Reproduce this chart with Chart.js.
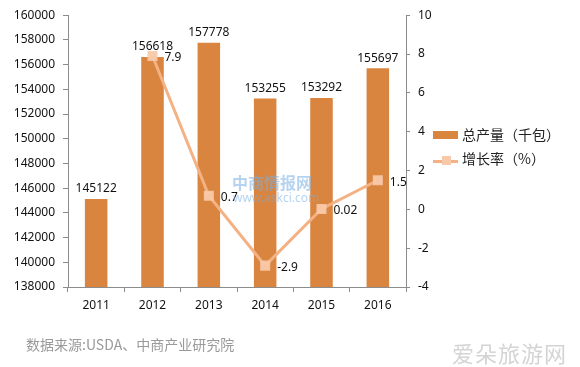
<!DOCTYPE html>
<html>
<head>
<meta charset="utf-8">
<script src="https://cdn.jsdelivr.net/npm/chart.js@4/dist/chart.umd.min.js"></script>
<style>
  html, body { margin: 0; padding: 0; background: #fff; }
  #wrap { position: relative; width: 580px; height: 367px; overflow: hidden; }
  #chart { position: absolute; left: 0; top: 0; }
  .legend { position: absolute; left: 433px; font: 14px "Noto Sans CJK SC", sans-serif; color: #222; }
  .legend .sw { position: absolute; left: 0; }
  .legend span.txt { position: absolute; left: 29px; white-space: nowrap; }
  .source { position: absolute; left: 26px; top: 334px; font: 14px "Noto Sans CJK SC", serif; color: #9a9a9a; }
  .mark { position: absolute; left: 452px; top: 336px; font: 22px "Noto Sans CJK SC", sans-serif; color: #d4d4d4; letter-spacing: 1px; }
  .logo1 { position: absolute; left: 232px; top: 170px; font: bold 16px "Noto Sans CJK SC", sans-serif; color: rgba(120,175,225,0.55); }
  .logo2 { position: absolute; left: 233px; top: 189px; font: 12px "Noto Sans", sans-serif; color: rgba(120,175,225,0.55); }
</style>
</head>
<body>
<div id="wrap">
  <canvas id="chart" width="580" height="367"></canvas>
  <div class="logo1">中商情报网</div>
  <div class="logo2">www.askci.com</div>
  <div class="legend" style="top:126px;">
    <div class="sw" style="top:5px;width:25px;height:8px;background:#D9853F;"></div>
    <span class="txt" style="top:-2px;">总产量（千包）</span>
  </div>
  <div class="legend" style="top:150px;">
    <div class="sw" style="top:10px;width:25px;height:3px;background:#F4B183;"></div>
    <div class="sw" style="top:6px;left:9px;width:9px;height:9px;background:#F8C9A8;"></div>
    <span class="txt" style="top:-2px;">增长率（%）</span>
  </div>
  <div class="source">数据来源:USDA、中商产业研究院</div>
  <div class="mark">爱朵旅游网</div>
</div>
<script>
const years = ["2011", "2012", "2013", "2014", "2015", "2016"];
const output = [145122, 156618, 157778, 153255, 153292, 155697];
const growth = [null, 7.9, 0.7, -2.9, 0.02, 1.5];
const growthLabels = ["", "7.9", "0.7", "-2.9", "0.02", "1.5"];

const tickFont = { family: "Noto Sans", size: 12 };
const axisColor = "#8c8c8c";

const valueLabels = {
  id: "valueLabels",
  afterDatasetsDraw(chart) {
    const ctx = chart.ctx;
    ctx.save();
    ctx.font = "12px 'Noto Sans'";
    ctx.fillStyle = "#111";
    chart.getDatasetMeta(0).data.forEach((bar, i) => {
      ctx.textAlign = "center";
      ctx.textBaseline = "bottom";
      ctx.fillText(String(output[i]), bar.x, bar.y - 4);
    });
    chart.getDatasetMeta(1).data.forEach((pt, i) => {
      if (growth[i] === null) return;
      ctx.textAlign = "left";
      ctx.textBaseline = "middle";
      ctx.fillText(growthLabels[i], pt.x + 12, pt.y + 2);
    });
    ctx.restore();
  }
};

new Chart(document.getElementById("chart"), {
  data: {
    labels: years,
    datasets: [
      {
        type: "bar",
        label: "总产量（千包）",
        data: output,
        backgroundColor: "#D9853F",
        categoryPercentage: 1,
        barPercentage: 0.4,
        yAxisID: "y",
        order: 2
      },
      {
        type: "line",
        label: "增长率（%）",
        data: growth,
        borderColor: "#F4B183",
        borderWidth: 3,
        pointStyle: "rect",
        pointRadius: 5,
        pointBackgroundColor: "rgba(248,201,168,0.9)",
        pointBorderColor: "rgba(248,201,168,0.9)",
        tension: 0,
        yAxisID: "y1",
        order: 1
      }
    ]
  },
  options: {
    responsive: false,
    animation: false,
    layout: { padding: { left: 0, right: 134, top: 9, bottom: 50 } },
    plugins: { legend: { display: false }, tooltip: { enabled: false } },
    scales: {
      x: {
        grid: { drawOnChartArea: false, drawTicks: true, tickLength: 5, color: axisColor },
        border: { color: axisColor },
        ticks: { font: tickFont, color: "#111", padding: 6, maxRotation: 0 },
        afterFit(scale) { scale.height = 30; }
      },
      y: {
        position: "left",
        min: 138000,
        max: 160000,
        grid: { drawOnChartArea: false, tickLength: 5, color: axisColor },
        border: { color: axisColor },
        ticks: { stepSize: 2000, font: tickFont, color: "#111", padding: 8, callback: (v) => String(v) },
        afterFit(scale) { scale.width = 68; }
      },
      y1: {
        position: "right",
        min: -4,
        max: 10,
        grid: { drawOnChartArea: false, tickLength: 4, color: axisColor },
        border: { color: axisColor },
        ticks: { stepSize: 2, font: tickFont, color: "#111", padding: 8, callback: (v) => String(v) },
        afterFit(scale) { scale.width = 40; }
      }
    }
  },
  plugins: [valueLabels]
});
</script>
</body>
</html>
